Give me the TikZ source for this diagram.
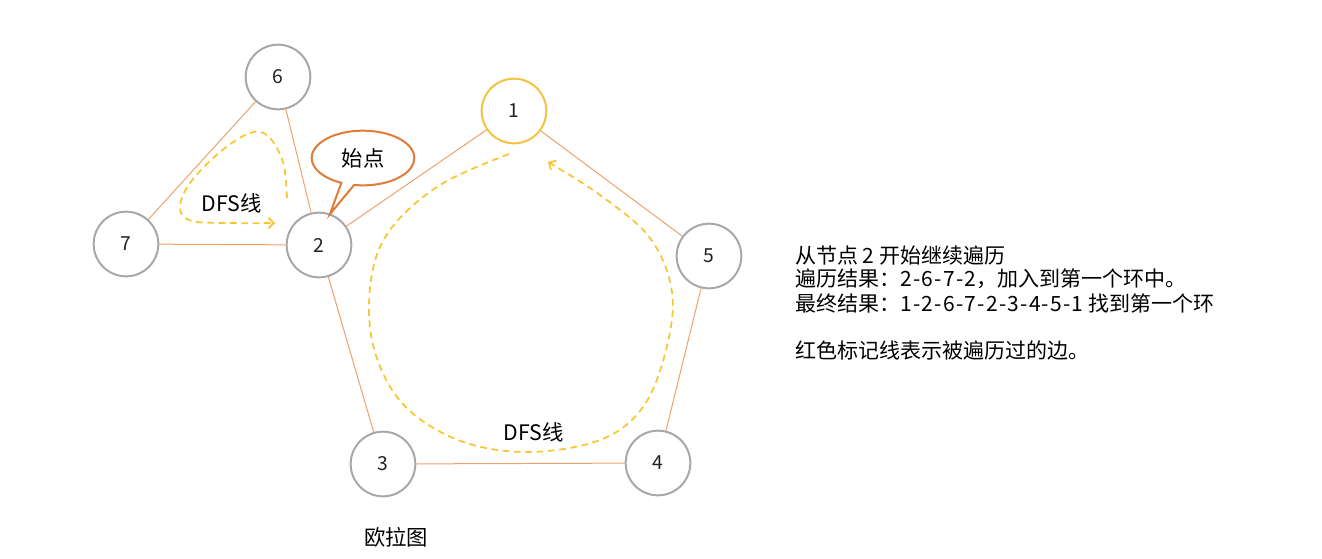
\documentclass[tikz,border=0pt]{standalone}
\usepackage{fontspec}
\setmainfont{Noto Sans CJK SC}
\usetikzlibrary{shapes.geometric,shapes.callouts,arrows.meta}
\definecolor{edgeC}{HTML}{EDA26E}
\definecolor{circC}{HTML}{A8A8A8}
\definecolor{yelC}{HTML}{F6C244}
\definecolor{dashC}{HTML}{F8C632}
\definecolor{callC}{HTML}{E07B39}
\definecolor{txtC}{HTML}{222222}
\newcommand{\spnum}[1]{{\addfontfeature{LetterSpace=6}#1}}
\tikzset{
  vert/.style={circle,draw=circC,line width=1.5pt,minimum size=48.5pt,inner sep=0pt,fill=white,font=\fontsize{14.5}{14.5}\selectfont,text=txtC},
  edge/.style={draw=edgeC,line width=0.75pt},
  dfs/.style={draw=dashC,line width=1.3pt,dash pattern=on 5pt off 3.5pt,-{Straight Barb[length=4pt,width=8pt,line width=1.3pt]}},
  lbl/.style={font=\fontsize{16}{16}\selectfont,text=black,inner sep=0pt},
}
\begin{document}
\begin{tikzpicture}[x=0.75pt,y=-0.75pt]
\useasboundingbox (0,0) rectangle (1322,558);
\coordinate (p6) at (278,77);
\coordinate (p7) at (126,244);
\coordinate (p2) at (319,245);
\coordinate (p1) at (514,111);
\coordinate (p5) at (709,256);
\coordinate (p3) at (383,464);
\coordinate (p4) at (658,463);
\node[vert] (n6) at (p6) {6};
\node[vert] (n7) at (p7) {7};
\node[vert] (n2) at (p2) {2};
\node[vert,draw=yelC] (n1) at (p1) {1};
\node[vert] (n5) at (p5) {5};
\node[vert] (n3) at (p3) {3};
\node[vert] (n4) at (p4) {4};
\draw[edge] (n6) -- (n7);
\draw[edge] (n6) -- (n2);
\draw[edge] (n7) -- (n2);
\draw[edge] (n2) -- (n1);
\draw[edge] (n1) -- (n5);
\draw[edge] (n5) -- (n4);
\draw[edge] (n4) -- (n3);
\draw[edge] (n3) -- (n2);
% callout
\node[ellipse callout,draw=callC,line width=1.5pt,fill=white,minimum width=77pt,minimum height=41pt,
  callout absolute pointer={(330,214)},lbl] (start) at (363,158) {始点};
% DFS dashed lines
\draw[dfs] plot[smooth,tension=0.6] coordinates {(287,198) (283,162) (268,136) (250,133) (220,152) (190,183) (180,208) (192,221) (230,223) (275,223)};
\draw[dfs] plot[smooth,tension=0.6] coordinates {(509,154) (440,185) (390,230) (371,280) (373,345) (402,403) (458,440) (527,452) (600,440) (643,407) (666,350) (672,292) (650,238) (600,195) (548,162)};
\node[lbl] (d1) at (232,203) {DFS线};
\node[lbl] (d2) at (534,432) {DFS线};
\node[lbl] (title) at (396,537) {欧拉图};
\begin{scope}[every node/.style={lbl,anchor=west,font=\fontsize{15.75}{15.75}\selectfont}]
\node (t1) at (795,256) {从节点 2 开始继续遍历};
\node (t2) at (795,279) {遍历结果：\spnum{2-6-7-2}，加入到第一个环中。};
\node (t3) at (795,303) {最终结果：\spnum{1-2-6-7-2-3-4-5-1} 找到第一个环};
\node (t4) at (795,350) {红色标记线表示被遍历过的边。};
\end{scope}
\end{tikzpicture}
\end{document}
